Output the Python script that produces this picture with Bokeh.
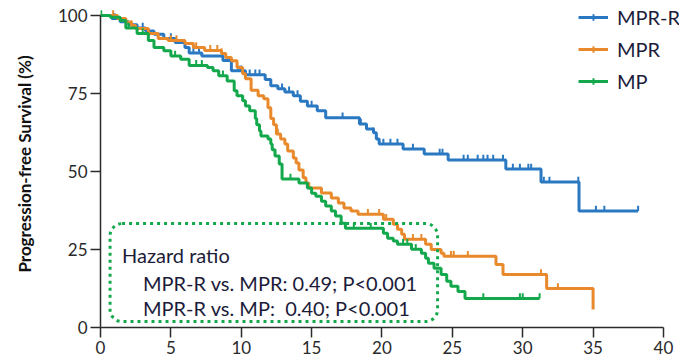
import numpy as np
from bokeh.plotting import figure
from bokeh.models import (Range1d, BoxAnnotation, Label, Legend, LegendItem,
                          FixedTicker, ColumnDataSource)
from bokeh.embed import file_html
from bokeh.resources import INLINE

# ---------------- data ----------------
series_names = ["MPR-R", "MPR", "MP"]
x_ticks = [0, 5, 10, 15, 20, 25, 30, 35, 40]
y_ticks = [0, 25, 50, 75, 100]

mprr_t = [0, 0.8, 1.4, 2.0, 2.6, 3.2, 3.8, 4.5, 5.3, 6.0, 6.3, 7.2, 8.7, 9.3, 10.3,
          11.7, 12.1, 12.6, 13.1, 13.7, 14.2, 14.7, 15.4, 16.0, 18.4, 18.9, 19.4,
          19.6, 19.8, 21.5, 23.0, 24.7, 28.8, 31.3, 34.0]
mprr_s = [100, 99, 98, 97, 96, 95, 94, 92.6, 91.3, 89.7, 88, 87, 85.6, 82.3, 81,
          79.5, 77.5, 76.5, 75.5, 74.3, 72.5, 71, 69.5, 67.2, 65.2, 63.6, 62.4,
          60.4, 58.8, 57.2, 55.6, 53.7, 50.8, 46.6, 37.3]
mprr_end = 38.2
mprr_cens = [1.0, 3.0, 5.0, 6.6, 7.0, 9.8, 10.0, 10.6, 11.0, 11.3, 12.9, 13.4, 14.0,
             15.0, 17.2, 18.5, 18.9, 19.4, 20.1, 20.6, 21.1, 22.2, 24.1, 24.3, 25.8,
             26.1, 26.8, 27.2, 27.5, 27.9, 28.6, 29.3, 29.8, 30.4, 30.6, 31.5, 31.9,
             33.95, 35.2, 35.8, 38.2]

mpr_t = [0, 1.2, 1.8, 2.2, 2.5, 3.4, 4.1, 4.8, 6.0, 6.6, 7.4, 8.6, 8.9, 9.3, 9.7,
         10.1, 10.3, 10.7, 11.2, 11.6, 11.9, 12.1, 12.3, 12.5, 12.8, 13.1, 13.3, 13.7,
         13.9, 14.1, 14.4, 14.6, 14.8, 15.7, 16.4, 16.9, 17.3, 17.8, 18.3, 20.1, 20.8,
         21.1, 21.4, 21.6, 23.1, 23.5, 24.2, 24.4, 28.1, 28.6, 31.7, 35.0]
mpr_s = [100, 99, 97.8, 96.8, 95.8, 94.2, 92.6, 92, 91, 89.7, 88.8, 87.8, 86.5,
         85.5, 83.3, 81.3, 79.7, 76, 74.3, 73.3, 70.4, 67, 65, 62, 60.4, 58.8, 56.6,
         54.3, 52.7, 50.5, 48, 46.3, 44.7, 43.1, 41.5, 39.9, 38.3, 37.3, 36.3, 34.7,
         33.1, 31.5, 29.9, 28.3, 26.7, 25, 23.8, 22.8, 20.2, 17, 12.5, 5.8]
mpr_end = 35.0
mpr_cens = [0.9, 2.2, 3.4, 5.0, 5.4, 6.8, 7.8, 8.3, 8.6, 12.6, 19.0, 19.8, 20.3,
            22.2, 22.8, 24.9, 25.1, 26.1, 31.3, 32.5]

mp_t = [0, 0.7, 1.4, 1.8, 2.6, 3.4, 3.8, 4.5, 5.0, 5.7, 6.3, 7.6, 8.0, 8.4, 9.0,
        9.5, 9.7, 10.1, 10.3, 10.6, 11.0, 11.1, 11.3, 11.4, 11.9, 12.1, 12.2, 12.4,
        12.7, 12.9, 14.1, 14.7, 15.0, 15.3, 15.7, 16.0, 16.4, 16.7, 17.1, 17.4, 20.1,
        20.4, 20.8, 21.1, 22.1, 22.8, 23.1, 23.3, 23.7, 24.2, 24.6, 24.9, 25.4, 25.9]
mp_s = [100, 99.4, 98.4, 96, 94.2, 92, 89.7, 88.7, 87, 86, 84, 83.3, 82.3, 80.7, 79,
        75.9, 74.3, 72.7, 71, 69.5, 67, 65, 63, 61.4, 60.4, 58.8, 57, 55,
        52.4, 47.6, 46.3, 44.7, 43, 42.1, 40.5, 38.9, 37.3, 35.7, 33.4, 31.8, 30.2,
        28.6, 27.7, 26.7, 25.1, 23.8, 22.2, 20.6, 19, 17, 14.8, 13.2, 11.5, 9.3]
mp_end = 31.2
mp_cens = [0.05, 2.0, 3.0, 5.3, 6.8, 7.2, 8.7, 13.5, 18.0, 19.2, 21.5, 21.8, 22.4,
           25.9, 27.2, 29.8, 30.0, 31.2]

hr_title = "Hazard ratio"
hr_lines = ["MPR-R vs. MPR: 0.49; P<0.001", "MPR-R vs. MP:\u00a0 0.40; P<0.001"]

colors = ["#2a78c2", "#e8892b", "#14a84c"]
FONT = "Lato"
TXT = "#1c1c3a"

# ---------------- figure ----------------
# frame extends a little past the axes so the legend is not clipped;
# the axis lines are bounded to the data domain (0-40, 0-100)
p = figure(width=679, height=360, x_range=Range1d(0, 41.14), y_range=Range1d(0, 104.8),
           output_backend="svg", toolbar_location=None,
           min_border_left=100, min_border_right=0, min_border_top=0,
           min_border_bottom=33)
p.outline_line_color = None
p.grid.visible = False
p.background_fill_color = "white"

p.xaxis.ticker = FixedTicker(ticks=x_ticks)
p.yaxis.ticker = FixedTicker(ticks=y_ticks)
p.xaxis.bounds = (0, 40)
p.yaxis.bounds = (0, 100)
for ax in (p.xaxis[0], p.yaxis[0]):
    ax.minor_tick_line_color = None
    ax.major_tick_in = 0
    ax.axis_line_color = "#2b2b2b"
    ax.axis_line_width = 1.5
    ax.major_tick_line_color = "#2b2b2b"
    ax.major_tick_line_width = 1.5
    ax.major_label_text_font = FONT
    ax.major_label_text_font_size = "17px"
    ax.major_label_text_color = "#2a2a2a"
p.xaxis.major_tick_out = 10
p.xaxis.major_label_standoff = 3
p.yaxis.major_tick_out = 10
p.yaxis.major_label_standoff = 3
p.yaxis.axis_label = "Progression-free Survival (%)"
p.yaxis.axis_label_text_font = FONT
p.yaxis.axis_label_text_font_style = "bold"
p.yaxis.axis_label_text_font_size = "17px"
p.yaxis.axis_label_text_color = "#111111"
p.yaxis.axis_label_standoff = 20

items = []
series = [(mprr_t, mprr_s, mprr_end, mprr_cens),
          (mpr_t, mpr_s, mpr_end, mpr_cens),
          (mp_t, mp_s, mp_end, mp_cens)]
for name, (t, s, end, cens), col in zip(series_names, series, colors):
    xs = list(t) + [end]
    ys = list(s) + [s[-1]]
    src = ColumnDataSource(dict(x=xs, y=ys))
    r_line = p.step("x", "y", source=src, mode="after", line_color=col, line_width=3)
    ta = np.asarray(t)
    sa = np.asarray(s)
    c = np.asarray(cens)
    idx = np.searchsorted(ta, c, side="right") - 1
    cy = sa[idx]
    csrc = ColumnDataSource(dict(x=c, y0=cy, y1=cy + 1.7))
    p.segment(x0="x", y0="y0", x1="x", y1="y1", source=csrc, line_color=col,
              line_width=2)
    r_leg = p.scatter("x", "y0", source=csrc, marker="cross", line_color=col,
                      line_width=2, size=6)
    r_leg.visible = False
    items.append(LegendItem(label=name, renderers=[r_line, r_leg]))

legend = Legend(items=items, location=(478, 234))
legend.background_fill_alpha = 0
legend.border_line_alpha = 0
legend.padding = 0
legend.margin = 0
legend.spacing = 8
legend.glyph_width = 30
legend.glyph_height = 16
legend.label_standoff = 9
legend.label_text_font = FONT
legend.label_text_font_size = "20px"
legend.label_text_color = TXT
p.add_layout(legend)

box = BoxAnnotation(left=0.68, right=23.95, top=33.3, bottom=1.9,
                    fill_alpha=0, line_color=colors[2], line_alpha=1.0, line_width=3,
                    line_dash="3 4", border_radius=12)
p.add_layout(box)

p.add_layout(Label(x=1.53, y=23.1, text=hr_title, text_font=FONT,
                   text_font_size="20px", text_color=TXT, text_baseline="alphabetic"))
p.add_layout(Label(x=3.02, y=14.4, text=hr_lines[0], text_font=FONT,
                   text_font_size="20px", text_color=TXT, text_baseline="alphabetic"))
p.add_layout(Label(x=3.02, y=6.4, text=hr_lines[1], text_font=FONT,
                   text_font_size="20px", text_color=TXT, text_baseline="alphabetic"))

open("out.html", "w").write(file_html(p, INLINE))
